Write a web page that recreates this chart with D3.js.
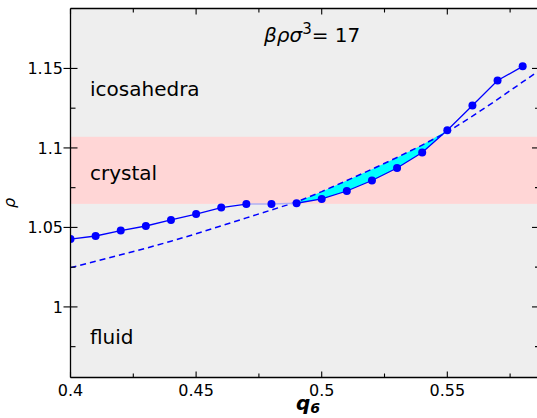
<!DOCTYPE html>
<html>
<head>
<meta charset="utf-8">
<script src="https://cdn.jsdelivr.net/npm/d3@7"></script>
<style>
  html, body { margin: 0; padding: 0; background: #ffffff; }
  svg { display: block; }
  text { font-family: "DejaVu Sans", sans-serif; fill: #000; }
</style>
</head>
<body>
<svg id="chart" width="537" height="418"></svg>
<script>
// Order parameter q6 and measured density rho along the isotherm
const qValues   = [0.40, 0.41, 0.42, 0.43, 0.44, 0.45, 0.46, 0.47, 0.48, 0.49,
                   0.50, 0.51, 0.52, 0.53, 0.54, 0.55, 0.56, 0.57, 0.58];
const rhoValues = [1.0427, 1.0446, 1.0480, 1.0509, 1.0547, 1.0584, 1.0625, 1.0647, 1.0647, 1.0652,
                   1.0679, 1.0729, 1.0795, 1.0874, 1.0971, 1.1111, 1.1267, 1.1424, 1.1513];

// Reference curve (dashed)
const fitQ   = [0.40, 0.41, 0.42, 0.43, 0.44, 0.45, 0.46, 0.47, 0.48, 0.49,
                0.50, 0.51, 0.52, 0.53, 0.54, 0.55, 0.56, 0.57, 0.58, 0.5865];
const fitRho = [1.0247, 1.0287, 1.0328, 1.0369, 1.0413, 1.0460, 1.0510, 1.0560, 1.0610, 1.0660,
                1.0725, 1.0795, 1.0866, 1.0940, 1.1018, 1.1100, 1.1200, 1.1305, 1.1415, 1.1485];

// Coexistence: tie line between these q, shaded area between them
const tieStartQ = 0.47;
const tieEndQ   = 0.49;
const shadeStartQ = 0.49;
const shadeEndQ   = 0.55;

// Crystal density band
const crystalBand = [1.0648, 1.107];

// Axis ticks
const xMajorTicks  = [0.40, 0.45, 0.50, 0.55];
const xTickLabels  = ["0.4", "0.45", "0.5", "0.55"];
const xMinorTicks  = [0.425, 0.475, 0.525, 0.575];
const yMajorTicks  = [1.00, 1.05, 1.10, 1.15];
const yTickLabels  = ["1", "1.05", "1.1", "1.15"];
const yMinorTicks  = [0.975, 1.025, 1.075, 1.125];

// Region labels
const regionNames = ["icosahedra", "crystal", "fluid"];
const regionRho   = [1.1325, 1.080, 0.9765];

const svg = d3.select("#chart");
const mLeft = 70.5, mRight = 539, mTop = 8.5, mBottom = 377.5;

const x = d3.scaleLinear().domain([0.40, 0.5865]).range([mLeft, mRight]);
const y = d3.scaleLinear().domain([0.9556, 1.1877]).range([mBottom, mTop]);

svg.append("defs").append("clipPath").attr("id", "plot-clip")
  .append("rect").attr("x", mLeft).attr("y", mTop)
  .attr("width", mRight - mLeft).attr("height", mBottom - mTop);

// Background
svg.append("rect").attr("x", mLeft).attr("y", mTop)
  .attr("width", mRight - mLeft).attr("height", mBottom - mTop)
  .attr("fill", "#eeeeee");

const plot = svg.append("g").attr("clip-path", "url(#plot-clip)");

// Crystal band
plot.append("rect")
  .attr("x", mLeft).attr("width", mRight - mLeft)
  .attr("y", y(crystalBand[1]))
  .attr("height", y(crystalBand[0]) - y(crystalBand[1]))
  .attr("fill", "#ffd6d6");

// Shaded region between the data and the dashed curve
const fitAt = q => fitRho[fitQ.findIndex(v => Math.abs(v - q) < 1e-9)];
const shade = [];
qValues.forEach((q, i) => {
  if (q >= shadeStartQ - 1e-9 && q <= shadeEndQ + 1e-9) {
    shade.push({ q: q, lo: rhoValues[i], hi: Math.max(fitAt(q), rhoValues[i]) });
  }
});
plot.append("path")
  .datum(shade)
  .attr("d", d3.area().x(d => x(d.q)).y0(d => y(d.lo)).y1(d => y(d.hi)))
  .attr("fill", "#00ffff");

// Dashed curve
plot.append("path")
  .datum(fitQ.map((q, i) => [q, fitRho[i]]))
  .attr("d", d3.line().x(d => x(d[0])).y(d => y(d[1])))
  .attr("fill", "none").attr("stroke", "#0000ff")
  .attr("stroke-width", 1.5).attr("stroke-dasharray", "6,4");

// Data line: solid outside the coexistence span, faint tie line inside it
const pts = qValues.map((q, i) => [q, rhoValues[i]]);
const line = d3.line().x(d => x(d[0])).y(d => y(d[1]));
plot.append("path")
  .datum(pts.filter(d => d[0] >= tieStartQ - 1e-9 && d[0] <= tieEndQ + 1e-9))
  .attr("d", line).attr("fill", "none")
  .attr("stroke", "#b0b0f2").attr("stroke-width", 1.5);
plot.append("path")
  .datum(pts.filter(d => d[0] <= tieStartQ + 1e-9))
  .attr("d", line).attr("fill", "none")
  .attr("stroke", "#0000ff").attr("stroke-width", 1.3);
plot.append("path")
  .datum(pts.filter(d => d[0] >= tieEndQ - 1e-9))
  .attr("d", line).attr("fill", "none")
  .attr("stroke", "#0000ff").attr("stroke-width", 1.3);

plot.selectAll("circle.pt").data(pts).enter().append("circle")
  .attr("class", "pt")
  .attr("cx", d => x(d[0])).attr("cy", d => y(d[1]))
  .attr("r", 4).attr("fill", "#0000ff");

// Region labels
svg.selectAll("text.region").data(regionNames).enter().append("text")
  .attr("class", "region")
  .attr("x", 90).attr("y", (d, i) => y(regionRho[i]))
  .attr("font-size", 20)
  .text(d => d);

// Title inside the plot
const title = svg.append("text").attr("x", 264).attr("y", 42).attr("font-size", 20);
title.append("tspan").attr("font-style", "italic").text("βρσ");
title.append("tspan").attr("font-size", 15).attr("dy", -8).text("3");
title.append("tspan").attr("dy", 8).text("= 17");

// Frame
const frame = svg.append("g").attr("stroke", "#000").attr("stroke-width", 1.3).attr("fill", "none");
frame.append("line").attr("x1", mLeft).attr("x2", mLeft).attr("y1", mTop).attr("y2", mBottom);
frame.append("line").attr("x1", mLeft).attr("x2", mRight).attr("y1", mBottom).attr("y2", mBottom);
frame.append("line").attr("x1", mLeft).attr("x2", mRight).attr("y1", mTop).attr("y2", mTop);
frame.append("line").attr("x1", mRight).attr("x2", mRight).attr("y1", mTop).attr("y2", mBottom);

// Ticks
const ticks = svg.append("g").attr("stroke", "#000").attr("stroke-width", 1.1);
xMajorTicks.forEach(v => {
  ticks.append("line").attr("x1", x(v)).attr("x2", x(v)).attr("y1", mBottom).attr("y2", mBottom - 6);
  ticks.append("line").attr("x1", x(v)).attr("x2", x(v)).attr("y1", mTop).attr("y2", mTop + 6);
});
xMinorTicks.forEach(v => {
  ticks.append("line").attr("x1", x(v)).attr("x2", x(v)).attr("y1", mBottom).attr("y2", mBottom - 4);
  ticks.append("line").attr("x1", x(v)).attr("x2", x(v)).attr("y1", mTop).attr("y2", mTop + 4);
});
yMajorTicks.forEach(v => {
  ticks.append("line").attr("x1", mLeft - 7).attr("x2", mLeft + 7).attr("y1", y(v)).attr("y2", y(v));
  ticks.append("line").attr("x1", mRight - 7).attr("x2", mRight).attr("y1", y(v)).attr("y2", y(v));
});
yMinorTicks.forEach(v => {
  ticks.append("line").attr("x1", mLeft).attr("x2", mLeft + 5).attr("y1", y(v)).attr("y2", y(v));
  ticks.append("line").attr("x1", mRight - 4).attr("x2", mRight).attr("y1", y(v)).attr("y2", y(v));
});

// Tick labels
svg.selectAll("text.xt").data(xMajorTicks).enter().append("text")
  .attr("class", "xt").attr("x", d => x(d)).attr("y", 396)
  .attr("text-anchor", "middle").attr("font-size", 16)
  .text((d, i) => xTickLabels[i]);
svg.selectAll("text.yt").data(yMajorTicks).enter().append("text")
  .attr("class", "yt").attr("x", 63).attr("y", d => y(d) + 6)
  .attr("text-anchor", "end").attr("font-size", 16)
  .text((d, i) => yTickLabels[i]);

// Axis titles
const xl = svg.append("text").attr("x", 296).attr("y", 410)
  .attr("font-size", 20).attr("font-weight", "bold").attr("font-style", "italic");
xl.append("tspan").text("q");
xl.append("tspan").attr("font-size", 14).attr("dy", 3).text("6");

svg.append("text")
  .attr("transform", "translate(15,203) rotate(-90)")
  .attr("text-anchor", "middle")
  .attr("font-size", 16).attr("font-style", "italic")
  .text("ρ");
</script>
</body>
</html>
